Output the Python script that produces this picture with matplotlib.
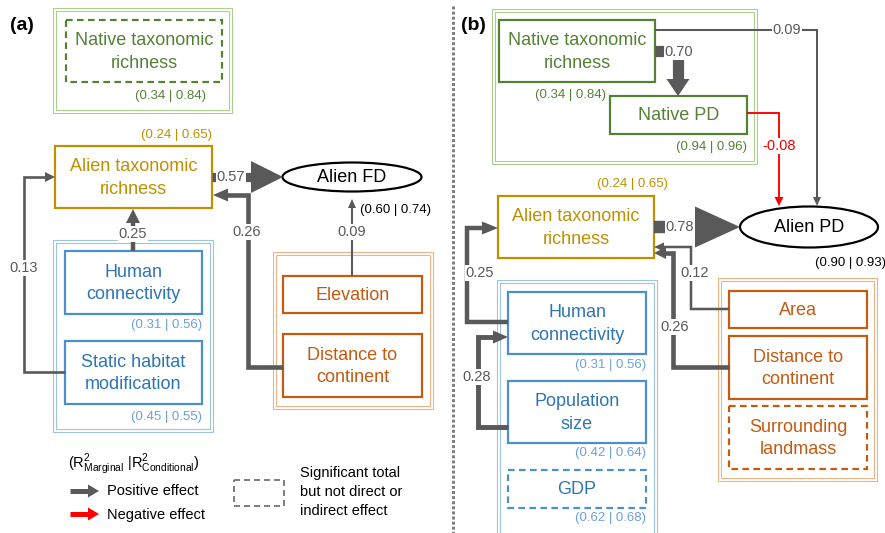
import numpy as np
import matplotlib
matplotlib.use('Agg')
import matplotlib.pyplot as plt
from matplotlib.patches import Rectangle, Ellipse, Polygon

plt.rcParams['font.family'] = ['Liberation Sans', 'DejaVu Sans']
plt.rcParams['mathtext.fontset'] = 'custom'
plt.rcParams['mathtext.rm'] = 'Liberation Sans'
plt.rcParams['mathtext.bf'] = 'Liberation Sans:bold'

# panel (a): nodes, R2 (marginal | conditional), path coefficients
a_nodes = ['Native taxonomic\nrichness', 'Alien taxonomic\nrichness', 'Human\nconnectivity',
           'Static habitat\nmodification', 'Elevation', 'Distance to\ncontinent', 'Alien FD']
a_r2_marg = [0.34, 0.24, 0.31, 0.45, 0.60]
a_r2_cond = [0.84, 0.65, 0.56, 0.55, 0.74]
a_coef = [0.57, 0.26, 0.25, 0.13, 0.09]

# panel (b)
b_nodes = ['Native taxonomic\nrichness', 'Native PD', 'Alien taxonomic\nrichness', 'Human\nconnectivity',
           'Population\nsize', 'GDP', 'Area', 'Distance to\ncontinent', 'Surrounding\nlandmass', 'Alien PD']
b_r2_marg = [0.34, 0.94, 0.24, 0.31, 0.42, 0.62, 0.90]
b_r2_cond = [0.84, 0.96, 0.65, 0.56, 0.64, 0.68, 0.93]
b_coef = [0.70, 0.09, -0.08, 0.78, 0.25, 0.12, 0.26, 0.28]

legend_items = ['Positive effect', 'Negative effect']

GREEN, GREEN_L = '#548235', '#a9d18e'
GOLD = '#bf9000'
BLUE, BLUE_E, BLUE_R, BLUE_L = '#2e75b6', '#4a8fd0', '#6ea1d9', '#9dc3e6'
ORANGE, ORANGE_L = '#c55a11', '#f4b183'
GREY = '#595959'
RED = '#ff0000'

W, H = 885, 533
PT = 72 / 100  # pixel -> points

fig = plt.figure(figsize=(8.85, 5.33), dpi=100)
ax = fig.add_axes([0, 0, 1, 1])
ax.set_xlim(0, W)
ax.set_ylim(H, 0)
ax.axis('off')


def group(x0, y0, x1, y1, color):
    for o in (0, 3):
        ax.add_patch(Rectangle((x0 + o, y0 + o), x1 - x0 - 2 * o, y1 - y0 - 2 * o,
                               fill=False, ec=color, lw=1.1 * PT, zorder=1))


def node(x0, y0, x1, y1, text, color, tcolor=None, dashed=False):
    ax.add_patch(Rectangle((x0, y0), x1 - x0, y1 - y0, fc='white', ec=color, lw=2.2 * PT,
                           ls=(0, (3, 2)) if dashed else '-', zorder=2))
    ax.text((x0 + x1) / 2, (y0 + y1) / 2 + 1, text, color=tcolor or color, ha='center', va='center',
            fontsize=13, linespacing=1.4, zorder=5)


def r2(x, y, m, c, color, ha='right'):
    ax.text(x, y, f'({m:.2f} | {c:.2f})', color=color, fontsize=9.5, ha=ha, va='center', zorder=5)


def draw_arrow(pts, lw, color, hl, hw):
    (x0, y0), (x1, y1) = pts[-2], pts[-1]
    d = np.hypot(x1 - x0, y1 - y0)
    ux, uy = (x1 - x0) / d, (y1 - y0) / d
    bx, by = x1 - ux * hl, y1 - uy * hl
    xs = [p[0] for p in pts[:-1]] + [bx + ux]
    ys = [p[1] for p in pts[:-1]] + [by + uy]
    ax.plot(xs, ys, color=color, lw=lw * PT, solid_joinstyle='miter', solid_capstyle='butt', zorder=3)
    px, py = -uy, ux
    ax.add_patch(Polygon([(x1, y1), (bx + px * hw / 2, by + py * hw / 2), (bx - px * hw / 2, by - py * hw / 2)],
                         closed=True, fc=color, ec='none', zorder=3))


def path(pts, coef, hl, hw, lab, ha='center'):
    col = RED if coef < 0 else GREY
    draw_arrow(pts, 0.7 + 15 * abs(coef), col, hl, hw)
    ax.text(lab[0], lab[1], f'{coef:.2f}', color=col, fontsize=10.5, ha=ha, va='center', zorder=4,
            bbox=dict(fc='white', ec='none', pad=0.6))


# ---------------- panel (a) ----------------
ax.text(10, 25, '(a)', fontsize=14, fontweight='bold', ha='left', va='center')

group(53, 8, 232, 113, GREEN_L)
node(66, 20, 222, 82, a_nodes[0], GREEN, dashed=True)
r2(206, 96, a_r2_marg[0], a_r2_cond[0], GREEN)

node(55, 146, 212, 208, a_nodes[1], GOLD)
r2(212, 135, a_r2_marg[1], a_r2_cond[1], GOLD)

group(53, 240, 213, 432, BLUE_L)
node(65, 251, 202, 314, a_nodes[2], BLUE_E, BLUE)
r2(202, 325, a_r2_marg[2], a_r2_cond[2], BLUE_R)
node(65, 341, 202, 404, a_nodes[3], BLUE_E, BLUE)
r2(202, 417, a_r2_marg[3], a_r2_cond[3], BLUE_R)

group(273, 252, 433, 409, ORANGE_L)
node(283, 276, 422, 313, a_nodes[4], ORANGE)
node(283, 334, 422, 397, a_nodes[5], ORANGE)

ax.add_patch(Ellipse((352, 177), 139, 29, fc='white', ec='black', lw=2.2 * PT, zorder=2))
ax.text(352, 178, a_nodes[6], fontsize=13, ha='center', va='center', zorder=5)
r2(431, 210, a_r2_marg[4], a_r2_cond[4], 'black')

path([(212, 177), (283, 177)], a_coef[0], 32, 32, (231, 177))
path([(283, 367), (248, 367), (248, 195), (213, 195)], a_coef[1], 15, 13, (247, 232))
path([(133, 251), (133, 209)], a_coef[2], 14, 14, (133, 234))
path([(65, 372), (24, 372), (24, 177), (55, 177)], a_coef[3], 10, 10, (24, 268))
path([(352, 276), (352, 199)], a_coef[4], 9, 8, (352, 232))

# legend
ax.text(68, 464, r'(R$^{2}_{\mathrm{Marginal}}$ |R$^{2}_{\mathrm{Conditional}}$)',
        fontsize=10.5, ha='left', va='center')
draw_arrow([(70, 491), (99, 491)], 5, GREY, 11, 13)
draw_arrow([(70, 514), (99, 514)], 5, RED, 11, 13)
ax.text(107, 491, legend_items[0], fontsize=10.5, ha='left', va='center')
ax.text(107, 515, legend_items[1], fontsize=10.5, ha='left', va='center')
ax.add_patch(Rectangle((234, 480), 50, 26, fill=False, ec='#808080', lw=2 * PT, ls=(0, (3, 2))))
ax.text(300, 492, 'Significant total\nbut not direct or\nindirect effect', fontsize=10.5,
        ha='left', va='center', linespacing=1.45)

# separator
ax.plot([453, 453], [6, 533], color='#808080', lw=3 * PT, ls=(0, (1, 0.7)), solid_capstyle='butt')

# ---------------- panel (b) ----------------
ax.text(461, 25, '(b)', fontsize=14, fontweight='bold', ha='left', va='center')

group(492, 9, 757, 164, GREEN_L)
node(499, 20, 655, 82, b_nodes[0], GREEN)
r2(606, 95, b_r2_marg[0], b_r2_cond[0], GREEN)
node(610, 96, 747, 134, b_nodes[1], GREEN)
r2(747, 147, b_r2_marg[1], b_r2_cond[1], GREEN)

node(498, 196, 654, 258, b_nodes[2], GOLD)
r2(668, 184, b_r2_marg[2], b_r2_cond[2], GOLD)

group(497, 280, 657, 545, BLUE_L)
node(508, 292, 646, 354, b_nodes[3], BLUE_E, BLUE)
r2(646, 365, b_r2_marg[3], b_r2_cond[3], BLUE_R)
node(508, 381, 646, 443, b_nodes[4], BLUE_E, BLUE)
r2(646, 453, b_r2_marg[4], b_r2_cond[4], BLUE_R)
node(508, 470, 646, 508, b_nodes[5], BLUE_E, BLUE, dashed=True)
r2(646, 518, b_r2_marg[5], b_r2_cond[5], BLUE_R)

group(718, 278, 877, 481, ORANGE_L)
node(729, 291, 867, 328, b_nodes[6], ORANGE)
node(729, 336, 867, 399, b_nodes[7], ORANGE)
node(729, 406, 867, 469, b_nodes[8], ORANGE, dashed=True)

ax.add_patch(Ellipse((809, 227), 138, 41, fc='white', ec='black', lw=2.2 * PT, zorder=2))
ax.text(809, 228, b_nodes[9], fontsize=13, ha='center', va='center', zorder=5)
r2(886, 263, b_r2_marg[6], b_r2_cond[6], 'black')

path([(655, 51), (678, 51), (678, 96)], b_coef[0], 17, 23, (679, 52))
path([(655, 30), (817, 30), (817, 206)], b_coef[1], 9, 8, (787, 30))
path([(747, 113), (779, 113), (779, 206)], b_coef[2], 9, 9, (779, 146))
path([(654, 227), (740, 227)], b_coef[3], 45, 41, (680, 227))
path([(508, 322), (467, 322), (467, 228), (498, 228)], b_coef[4], 16, 13, (480, 273))
path([(729, 309), (691, 309), (691, 247), (654, 247)], b_coef[5], 10, 9, (695, 273))
path([(729, 367), (673, 367), (673, 253), (654, 253)], b_coef[6], 12, 12, (675, 327))
path([(508, 427), (478, 427), (478, 337), (508, 337)], b_coef[7], 15, 13, (477, 377))

fig.savefig('out.png', dpi=100)
